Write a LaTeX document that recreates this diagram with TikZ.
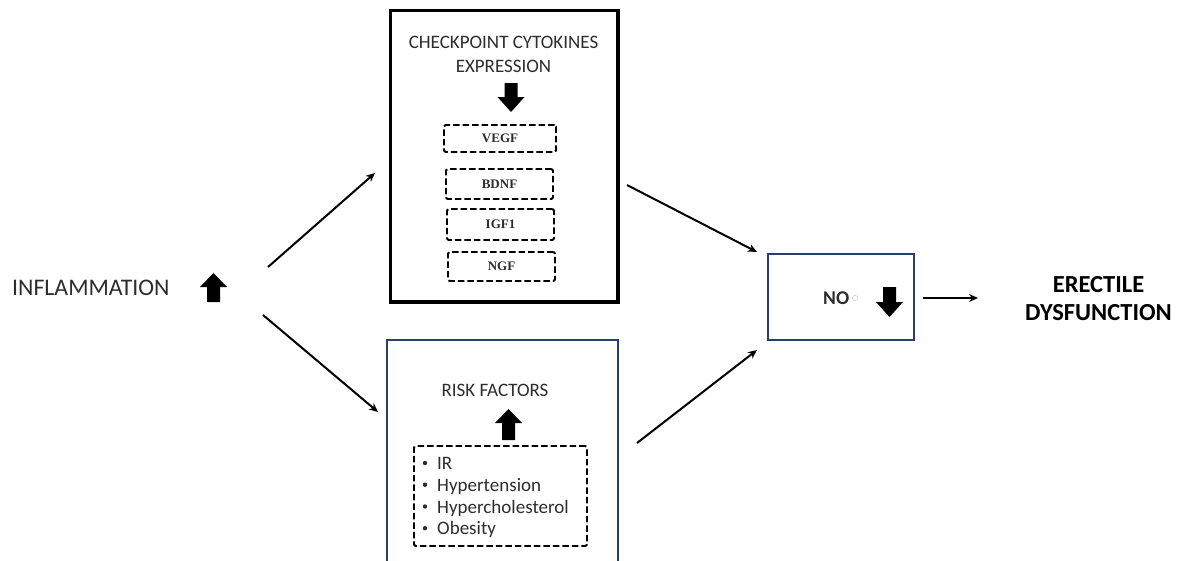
\documentclass[tikz,border=0pt]{standalone}
\usepackage{fontspec}
\setmainfont{Carlito}
\newfontfamily\tnr{Liberation Serif}
\usetikzlibrary{arrows.meta}
\definecolor{navy}{RGB}{42,62,108}
\definecolor{txt}{RGB}{45,45,45}
\newcommand\blkup[3]{% cx, top, bottom
  \fill (#1,#2) -- ({#1+13.5},{#2+14}) -- ({#1+6.5},{#2+14}) -- ({#1+6.5},#3) -- ({#1-6.5},#3) -- ({#1-6.5},{#2+14}) -- ({#1-13.5},{#2+14}) -- cycle;}
\newcommand\blkdown[3]{% cx, top, bottom
  \fill (#1,#3) -- ({#1+13.5},{#3-15}) -- ({#1+6.5},{#3-15}) -- ({#1+6.5},#2) -- ({#1-6.5},#2) -- ({#1-6.5},{#3-15}) -- ({#1-13.5},{#3-15}) -- cycle;}
\begin{document}
\begin{tikzpicture}[x=1pt,y=-1pt,
  thinarrow/.style={line width=2pt,-{Stealth[length=9pt,width=8pt]}},
  bigbox/.style={draw=black,line width=3.5pt,inner sep=0pt},
  bluebox/.style={draw=navy,line width=2pt,inner sep=0pt},
  dashbox/.style={draw=black,line width=1.8pt,dash pattern=on 6.5pt off 3pt,rounded corners=1.5pt,inner sep=0pt,font=\tnr\bfseries\fontsize{13}{15}\selectfont,text=txt},
  lbl/.style={inner sep=0pt,anchor=base,text=txt,font=\fontsize{19}{23}\selectfont},
  bigl/.style={inner sep=0pt,anchor=base,font=\fontsize{24.5}{29}\selectfont}]
\useasboundingbox (0,0) rectangle (1177,560);
\fill[white] (0,0) rectangle (1177,560);
\begin{scope}
\clip (0,0) rectangle (1177,560);
% boxes
\node[bigbox,minimum width=227.5pt,minimum height=291.5pt] (top) at (504.25,156.25) {};
\node[bluebox,minimum width=231pt,minimum height=240pt] (bot) at (502.5,460) {};
\node[bluebox,minimum width=146pt,minimum height=86pt] (no) at (841,297) {};
% top box content
\node[lbl] (t1) at (503.5,48) {CHECKPOINT CYTOKINES};
\node[lbl] (t2) at (503.5,72) {EXPRESSION};
\node[dashbox,minimum width=112pt,minimum height=27pt] (vegf) at (500,138.5) {VEGF};
\node[dashbox,minimum width=107pt,minimum height=30pt] (bdnf) at (499.5,184) {BDNF};
\node[dashbox,minimum width=107pt,minimum height=31pt] (igf) at (500.5,224.5) {IGF1};
\node[dashbox,minimum width=107pt,minimum height=29pt] (ngf) at (501.5,266.5) {NGF};
\blkdown{511}{83}{112}
% bottom box content
\node[lbl] (rf) at (495,396) {RISK FACTORS};
\blkup{508.5}{409}{440}
\node[dashbox,minimum width=173pt,minimum height=100pt] (rlist) at (500.5,496) {};
\foreach \yy/\tt [count=\i] in {469.5/IR,491.3/Hypertension,513/Hypercholesterol,534.7/Obesity}{
  \node[lbl,anchor=base west] (li\i) at (437,\yy) {\tt};
  \fill[txt] (425,{\yy-6.5}) circle (2.2pt);
}
\end{scope}
% left label
\node[bigl,anchor=base west,text=txt,font=\fontsize{23.8}{28}\selectfont] (infl) at (12,295) {INFLAMMATION};
\blkup{213.5}{273}{302}
% NO box content
\node[inner sep=0pt,anchor=base west,text=txt,font=\bfseries\fontsize{19.5}{23}\selectfont] (notext) at (823,304.5) {NO};
\draw[gray!40,line width=0.6pt] (855,298) circle (2.6pt);
\blkdown{889.5}{287}{317}
% right label
\node[bigl,font=\bfseries\fontsize{24.5}{29}\selectfont] (ed1) at (1098.5,292) {ERECTILE};
\node[bigl,font=\bfseries\fontsize{24.5}{29}\selectfont] (ed2) at (1098.5,320) {DYSFUNCTION};
% connectors
\coordinate (a1s) at (268,267); \coordinate (a1e) at (375,173);
\coordinate (a2s) at (263,315); \coordinate (a2e) at (378,412);
\coordinate (a3s) at (627,185); \coordinate (a3e) at (757,252);
\coordinate (a4s) at (637,443); \coordinate (a4e) at (757,350);
\coordinate (a5s) at (923,298); \coordinate (a5e) at (978,298);
\draw[thinarrow] (a1s) -- (a1e);
\draw[thinarrow] (a2s) -- (a2e);
\draw[thinarrow] (a3s) -- (a3e);
\draw[thinarrow] (a4s) -- (a4e);
\draw[thinarrow] (a5s) -- (a5e);
\end{tikzpicture}
\end{document}
